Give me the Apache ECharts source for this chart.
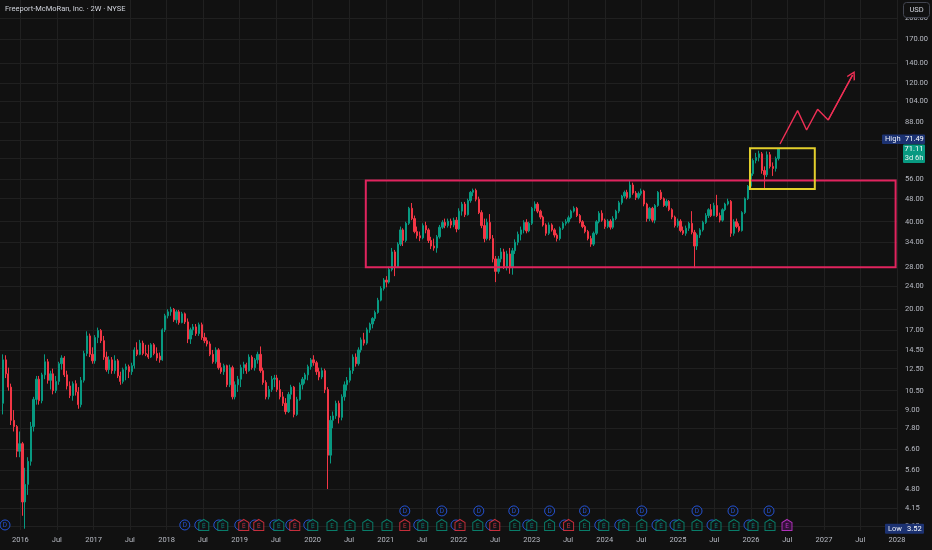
<!DOCTYPE html>
<html>
<head>
<meta charset="utf-8">
<script src="https://cdn.jsdelivr.net/npm/echarts@6/dist/echarts.min.js"></script>
<style>
  html, body { margin: 0; padding: 0; background: #111111; }
  #chart { width: 932px; height: 550px; }
</style>
</head>
<body>
<div id="chart"></div>
<script>
// ---------------- DATA ----------------
const TITLE = 'Freeport-McMoRan, Inc. · 2W · NYSE';
const FIRST_BAR = '2015-10-05';   // first 2-week bar
const BAR_DAYS = 14;

// 2W candles: [open, close, low, high]
const ohlc = [
[9.5,13.4,8.7,14.0],[13.4,12.0,11.6,13.9],[12.0,10.8,10.5,12.6],[10.8,8.3,8.0,11.1],[8.3,7.9,7.6,9.0],
[7.9,6.5,6.2,8.0],[6.5,6.9,6.2,7.6],[6.9,4.35,3.9,7.0],[4.35,5.0,3.52,5.7],[5.0,6.0,4.6,6.2],
[6.0,7.9,5.8,8.2],[7.9,9.8,7.6,10.0],[9.8,11.5,9.4,11.8],[11.5,9.7,9.4,11.8],[9.7,11.9,9.5,12.1],
[11.9,13.2,11.5,14.0],[13.2,11.4,11.1,13.5],[11.4,12.0,10.6,12.3],[12.0,10.5,10.2,12.5],[10.5,11.3,10.3,11.8],
[11.3,13.0,11.0,13.2],[13.0,13.6,12.4,13.9],[13.6,11.9,11.7,13.8],[11.9,10.9,10.6,12.3],[10.9,10.1,9.9,11.3],
[10.1,11.1,9.7,11.3],[11.1,10.4,10.1,11.4],[10.4,9.4,9.1,10.8],[9.4,11.4,9.2,11.7],[11.4,14.1,11.2,14.4],
[14.1,16.2,13.8,16.8],[16.2,14.0,13.7,16.5],[14.0,13.3,13.0,14.8],[13.3,16.0,13.0,16.3],[16.0,16.9,15.3,17.3],
[16.9,15.6,15.3,17.1],[15.6,13.7,13.4,16.2],[13.7,12.4,12.2,14.3],[12.4,13.4,12.0,13.8],[13.4,12.3,12.0,13.7],
[12.3,13.3,12.0,13.9],[13.3,11.8,11.6,13.5],[11.8,11.3,11.0,12.2],[11.3,12.4,11.1,12.6],[12.4,12.7,11.4,13.0],
[12.7,12.2,11.6,12.9],[12.2,12.8,11.9,13.1],[12.8,14.5,12.5,14.8],[14.5,14.0,13.8,15.4],[14.0,15.3,13.9,15.7],
[15.3,14.1,13.9,15.6],[14.1,14.0,13.8,15.1],[14.0,13.7,13.5,15.1],[13.7,15.1,13.6,15.3],[15.1,14.1,13.9,15.3],
[14.1,13.6,13.3,14.8],[13.8,13.4,13.1,14.2],[13.4,17.0,13.3,17.2],[17.0,19.0,16.7,19.3],[19.0,19.6,18.6,20.0],
[19.6,20.0,19.0,20.4],[20.0,18.4,18.1,20.2],[18.4,19.6,17.9,19.9],[19.6,18.0,17.7,19.9],[18.0,19.3,17.9,19.6],
[19.3,18.1,17.8,19.5],[18.1,15.8,15.3,18.6],[15.8,17.0,15.2,17.3],[17.0,17.4,16.3,17.8],[17.4,16.5,16.2,17.8],
[16.5,17.7,16.2,18.0],[17.7,16.0,15.7,18.0],[16.0,15.6,15.3,16.6],[15.6,15.2,14.9,16.0],[15.2,14.0,13.8,15.5],
[14.0,13.2,13.0,14.5],[13.2,14.5,13.0,14.8],[14.5,12.6,12.4,14.7],[12.6,12.2,12.0,13.1],[12.2,12.8,11.9,13.0],
[12.8,11.0,10.8,12.9],[11.0,12.6,10.8,12.9],[12.6,10.0,9.8,12.8],[10.0,11.0,9.8,11.3],[11.0,11.5,10.4,11.8],
[11.5,12.6,10.8,12.9],[12.6,12.9,12.0,13.2],[12.9,12.3,12.0,13.1],[12.3,13.7,12.2,14.0],[13.7,12.6,12.4,13.9],
[12.6,13.4,12.3,13.6],[13.4,14.0,13.0,14.3],[14.0,12.3,12.1,14.9],[12.3,11.2,11.0,12.6],[11.2,10.0,9.8,11.4],
[10.0,10.6,9.8,10.9],[10.6,11.5,10.4,11.8],[11.5,11.6,10.8,11.9],[11.6,10.6,10.4,11.9],[10.6,10.0,9.8,11.4],
[10.0,9.5,9.3,10.4],[9.5,8.9,8.7,9.9],[8.9,10.2,8.8,10.4],[10.2,10.8,9.8,11.0],[10.8,8.7,8.5,10.9],
[8.7,9.8,8.6,10.0],[9.8,11.0,9.7,11.2],[11.0,11.5,10.6,11.7],[11.5,11.9,11.1,12.1],[11.9,12.7,11.4,12.9],
[12.7,13.4,12.4,13.6],[13.4,13.1,12.8,13.9],[13.1,12.2,11.9,13.3],[12.2,11.7,11.4,12.6],[11.7,12.3,11.5,12.6],
[12.3,10.6,10.3,12.5],[10.6,6.3,4.82,10.8],[6.3,8.3,5.9,8.6],[8.3,8.6,7.8,8.9],[8.6,9.5,8.4,9.7],
[9.5,8.5,8.1,9.7],[8.5,10.0,8.3,10.2],[10.0,11.0,9.7,11.3],[11.0,11.4,10.5,11.7],[11.4,12.3,11.2,12.6],
[12.3,13.7,12.0,14.0],[13.7,13.0,12.7,14.1],[13.0,14.5,12.8,14.8],[14.5,15.7,14.2,16.0],[15.7,15.3,15.0,16.6],
[15.3,17.0,15.1,17.3],[17.0,17.8,16.6,18.0],[17.8,18.6,17.2,18.8],[18.6,19.5,18.2,19.8],[19.5,21.5,19.3,21.9],
[21.5,23.6,21.3,24.0],[23.6,25.2,23.2,25.6],[25.2,24.8,23.8,26.0],[24.8,27.4,24.5,28.0],[27.4,31.5,27.0,32.5],
[31.5,28.0,26.0,32.0],[28.0,33.5,27.8,34.0],[33.5,37.5,33.0,38.5],[37.5,34.5,33.0,38.0],[34.5,39.5,34.0,40.0],
[39.5,44.5,39.0,45.0],[44.5,41.0,40.5,46.4],[41.0,37.0,36.5,42.0],[37.0,35.8,35.0,38.5],[35.8,35.2,34.3,37.0],
[35.2,38.8,34.8,39.5],[38.8,37.5,36.5,40.0],[37.5,34.5,33.8,38.0],[34.5,33.0,32.2,35.5],[33.0,32.5,31.8,35.0],
[32.5,35.5,31.3,36.0],[35.5,38.3,35.0,39.0],[38.3,39.8,37.8,40.5],[39.8,38.8,38.0,41.0],[38.8,40.2,38.2,41.0],
[40.2,39.0,38.0,41.0],[39.0,40.5,38.3,41.3],[40.5,37.8,36.8,41.5],[37.8,43.5,37.5,44.5],[43.5,46.0,42.0,46.8],
[46.0,42.3,41.5,46.8],[42.3,47.3,42.0,48.0],[47.3,50.5,46.5,51.0],[50.5,51.3,49.0,52.0],[51.3,47.8,47.0,52.0],
[47.8,43.0,42.5,48.8],[43.0,38.8,38.0,43.8],[38.8,35.0,34.0,41.0],[35.0,39.8,34.5,41.0],[39.8,35.0,34.5,42.5],
[35.0,29.8,29.0,36.0],[29.8,27.0,24.8,30.5],[27.0,29.8,26.5,30.5],[29.8,31.5,29.0,32.5],[31.5,28.0,27.5,32.3],
[28.0,31.0,27.2,31.8],[31.0,27.8,26.5,32.5],[27.8,31.8,26.3,32.5],[31.8,34.0,31.0,34.8],[34.0,36.2,33.2,37.0],
[36.2,37.5,34.5,38.5],[37.5,39.8,36.5,40.5],[39.8,37.2,36.5,40.8],[37.2,39.5,36.8,40.0],[39.5,44.5,39.0,45.0],
[44.5,46.0,43.5,47.0],[46.0,43.5,42.8,46.7],[43.5,41.5,40.8,44.0],[41.5,39.0,38.5,42.0],[39.0,36.5,35.8,39.5],
[36.5,39.0,36.0,39.8],[39.0,37.5,37.0,39.5],[37.5,36.0,35.3,38.0],[36.0,35.0,34.2,36.5],[35.0,38.0,34.5,38.5],
[38.0,39.5,37.5,40.0],[39.5,40.0,38.8,40.8],[40.0,41.3,39.5,42.0],[41.3,43.5,40.8,44.0],[43.5,44.5,43.0,45.2],
[44.5,42.0,41.5,45.0],[42.0,40.0,39.5,42.5],[40.0,38.5,38.0,40.5],[38.5,37.0,36.5,39.0],[37.0,35.0,34.5,37.5],
[35.0,33.5,32.8,35.8],[33.5,36.5,33.0,37.0],[36.5,40.0,36.0,40.5],[40.0,42.8,39.5,43.5],[42.8,40.5,40.0,43.8],
[40.5,38.5,37.8,41.0],[38.5,40.2,38.0,40.8],[40.2,38.3,37.6,40.8],[38.3,41.0,37.8,41.8],[41.0,43.5,40.5,44.0],
[43.5,46.5,42.8,47.2],[46.5,49.0,45.8,49.5],[49.0,50.5,48.2,51.2],[50.5,48.5,47.8,51.5],[48.5,53.5,48.0,55.3],
[53.5,50.2,49.5,54.5],[50.2,48.5,47.5,51.0],[48.5,50.0,47.8,50.8],[50.0,51.0,49.2,52.0],[51.0,46.0,45.2,51.5],
[46.0,41.0,40.0,46.5],[41.0,44.5,40.2,45.0],[44.5,40.5,39.8,45.0],[40.5,45.5,39.5,46.0],[45.5,50.5,45.0,51.0],
[50.5,48.0,47.5,51.5],[48.0,45.5,45.0,48.5],[45.5,47.0,44.8,47.8],[47.0,44.0,43.5,47.5],[44.0,41.5,40.8,44.5],
[41.5,38.8,38.2,42.0],[38.8,40.2,38.2,41.0],[40.2,37.3,36.8,40.8],[37.3,36.5,36.0,38.5],[36.5,38.0,35.8,38.8],
[38.0,39.5,37.2,40.0],[39.5,36.8,36.2,43.5],[36.8,33.0,27.7,37.5],[33.0,36.0,32.0,36.5],[36.0,37.5,35.2,38.0],
[37.5,39.8,37.0,40.3],[39.8,42.0,39.3,42.8],[42.0,44.0,41.2,44.5],[44.0,42.0,41.5,46.0],[42.0,45.5,41.8,46.5],
[45.5,42.0,41.5,49.5],[42.0,40.5,39.8,43.0],[40.5,44.0,40.0,44.5],[44.0,46.0,43.5,46.5],[46.0,47.0,45.5,48.0],
[47.0,36.5,35.5,47.5],[36.5,40.0,35.8,40.8],[40.0,38.5,38.0,41.0],[38.5,37.3,36.8,39.5],[37.3,43.0,37.0,43.5],
[43.0,48.0,42.5,48.5],[48.0,53.0,47.5,53.5],[53.0,58.5,52.5,59.2],[58.5,65.0,57.5,66.0],[65.0,66.5,63.5,69.0],
[66.5,68.5,64.5,70.2],[68.5,60.0,58.5,69.5],[60.0,58.0,51.5,62.0],[58.0,68.0,57.0,69.8],[68.0,62.0,61.0,69.5],
[62.0,61.0,57.5,64.0],[61.0,66.0,59.5,67.0],[66.0,71.11,65.0,71.49]
];

const priceTicks = [200, 170, 140, 120, 104, 88, 76, 66, 56, 48, 40, 34, 28, 24, 20, 17, 14.5, 12.5, 10.5, 9, 7.8, 6.6, 5.6, 4.8, 4.15, 3.6];
const timeLabelYears = [2016, 2017, 2018, 2019, 2020, 2021, 2022, 2023, 2024, 2025, 2026, 2027, 2028];

const lastPrice = 71.11, lastCountdown = '3d 6h';
const highPrice = 71.49, lowPrice = 3.52;

// drawings (time, price)
const rangeBox = { from: '2020-09-23', to: '2027-12-25', low: 27.9, high: 55.4 };
const breakoutBox = { from: '2025-12-27', to: '2026-11-16', low: 51.8, high: 71.6 };
const arrowPath = [['2026-05-26', 74.0], ['2026-08-22', 96.4], ['2026-10-06', 82.7], ['2026-11-30', 97.4], ['2027-01-22', 89.5], ['2027-05-24', 127.8]];

// events
const dividendsSolo = ['2015-10-16', '2018-04-02'];
const dividendsStacked = ['2021-04-06', '2021-10-08', '2022-04-11', '2022-10-03', '2023-03-31', '2023-09-22', '2024-07-04', '2025-04-06', '2025-10-03', '2026-04-01'];
const earnings = [
  ['2018-07-06','beat',1],['2018-10-09','beat',1],['2019-01-22','miss',1],['2019-04-07','miss',1],['2019-07-16','beat',1],
  ['2019-10-04','miss',1],['2020-01-02','beat',1],['2020-04-07','beat',0],['2020-07-06','beat',0],['2020-10-03','beat',0],
  ['2021-01-07','beat',0],['2021-04-06','miss',0],['2021-07-05','beat',1],['2021-10-08','beat',0],['2022-01-07','miss',1],
  ['2022-04-06','beat',0],['2022-06-30','miss',1],['2022-10-08','beat',0],['2023-01-01','beat',1],['2023-03-31','beat',0],
  ['2023-07-04','miss',1],['2023-09-22','beat',0],['2023-12-27','beat',1],['2024-04-05','beat',1],['2024-07-04','beat',0],
  ['2024-10-08','beat',1],['2025-01-06','beat',1],['2025-04-06','beat',0],['2025-07-10','beat',1],['2025-10-08','beat',0],
  ['2026-01-11','beat',1],['2026-04-06','beat',0],['2026-06-30','next',0]
];

// ---------------- BUILD ----------------
const DAY = 86400000;
const ts = s => Date.parse(s + 'T00:00:00Z');
const t0 = ts(FIRST_BAR);
const candleData = ohlc.map((d, i) => [t0 + i * BAR_DAYS * DAY, d[0], d[1], d[2], d[3]]);

const X_MIN = Date.UTC(2015, 8, 21), X_MAX = Date.UTC(2028, 0, 1);
const Y_MIN = 3.484, Y_MAX = 231.5;

const timeTicks = [];
timeLabelYears.forEach(y => {
  timeTicks.push(Date.UTC(y, 0, 1));
  if (y < 2028) timeTicks.push(Date.UTC(y, 6, 1));
});

const BG = '#111111', GRID = '#202020', TXT = '#b8bbc4';
const UP = '#089981', DOWN = '#f23645';
const FONT = 'Roboto, "Noto Sans", sans-serif';
const FS = 7.5;
const BLUE = '#2962ff';
const ROW_LOW = 0.0095, ROW_HIGH = 0.036;
const EC = { beat: UP, miss: DOWN, next: '#d63ae0' };
const HOUSE = 'path://M5 0 L10 3 L10 11 L0 11 L0 3 Z';

const gridLines = [
  ...priceTicks.map(v => ({ yAxis: v, label: { formatter: v.toFixed(2) } })),
  ...timeTicks.map(t => ({ xAxis: t, label: { show: false } }))
];

const option = {
  backgroundColor: BG,
  animation: false,
  textStyle: { fontFamily: FONT },
  grid: { left: 0, right: 35, top: 0, bottom: 20 },
  xAxis: {
    type: 'value', min: X_MIN, max: X_MAX, scale: true,
    axisLine: { show: false }, axisTick: { show: false }, splitLine: { show: false },
    axisLabel: {
      customValues: timeTicks,
      hideOverlap: false,
      color: TXT, fontSize: FS, fontFamily: FONT, margin: 6,
      formatter: v => { const d = new Date(v); return d.getUTCMonth() === 0 ? String(d.getUTCFullYear()) : 'Jul'; }
    }
  },
  yAxis: [
    { type: 'log', logBase: 10, min: Y_MIN, max: Y_MAX, position: 'right',
      axisLine: { show: false }, axisTick: { show: false }, axisLabel: { show: false }, splitLine: { show: false } },
    { type: 'value', min: 0, max: 1, show: false }
  ],
  series: [
    {
      type: 'candlestick', name: 'FCX', data: candleData,
      encode: { x: 0, y: [1, 2, 3, 4] },
      barWidth: 1.7, z: 3,
      itemStyle: { color: UP, color0: DOWN, borderColor: UP, borderColor0: DOWN, borderWidth: 1 },
      markLine: {
        silent: true, z: 1, symbol: ['none', 'none'], animation: false,
        lineStyle: { color: GRID, type: 'solid', width: 1 },
        label: { position: 'end', distance: 8, color: TXT, fontSize: FS, fontFamily: FONT },
        emphasis: { disabled: true },
        data: gridLines
      }
    },
    {
      type: 'line', name: 'projection', z: 5,
      data: arrowPath.map(p => [ts(p[0]), p[1]]),
      symbol: 'none', lineStyle: { color: '#ef2f55', width: 1.4 },
      markArea: {
        silent: true, z: 4,
        data: [
          [{ xAxis: ts(rangeBox.from), yAxis: rangeBox.high, itemStyle: { color: 'rgba(0,0,0,0)', borderColor: '#e0245e', borderWidth: 2 } },
           { xAxis: ts(rangeBox.to), yAxis: rangeBox.low }],
          [{ xAxis: ts(breakoutBox.from), yAxis: breakoutBox.high, itemStyle: { color: 'rgba(0,0,0,0)', borderColor: '#e3cf2c', borderWidth: 2 } },
           { xAxis: ts(breakoutBox.to), yAxis: breakoutBox.low }]
        ]
      },
      markLine: {
        silent: true, z: 5, animation: false,
        symbol: ['none', 'path://M0 0 L6 7 L4.8 8.2 L0 2.6 L-4.8 8.2 L-6 7 Z'], symbolSize: [9, 9],
        lineStyle: { color: '#ef2f55', width: 1.4, type: 'solid' },
        label: { show: false },
        data: [[{ coord: [ts(arrowPath[arrowPath.length - 2][0]), arrowPath[arrowPath.length - 2][1]] },
                { coord: [ts(arrowPath[arrowPath.length - 1][0]), arrowPath[arrowPath.length - 1][1]] }]]
      }
    },
    {
      type: 'scatter', name: 'divBehind', yAxisIndex: 1, z: 6, silent: true,
      symbol: 'circle', symbolSize: 10, symbolOffset: [-4, 0],
      itemStyle: { color: BG, borderColor: BLUE, borderWidth: 1 },
      data: earnings.filter(e => e[2] === 1).map(e => [ts(e[0]), ROW_LOW])
    },
    {
      type: 'scatter', name: 'earnings', yAxisIndex: 1, z: 7, silent: true,
      symbol: HOUSE, symbolSize: [10, 11],
      data: earnings.map(e => ({
        value: [ts(e[0]), ROW_LOW],
        itemStyle: { color: e[1] === 'next' ? '#3b1042' : BG, borderColor: EC[e[1]], borderWidth: 1 },
        label: { color: EC[e[1]] }
      })),
      label: { show: true, position: 'inside', formatter: 'E', fontSize: 6.5, fontFamily: FONT, offset: [0, 1] }
    },
    {
      type: 'scatter', name: 'dividends', yAxisIndex: 1, z: 7, silent: true,
      symbol: 'circle', symbolSize: 10,
      itemStyle: { color: BG, borderColor: BLUE, borderWidth: 1 },
      data: [...dividendsSolo.map(d => [ts(d), ROW_LOW]), ...dividendsStacked.map(d => [ts(d), ROW_HIGH])],
      label: { show: true, position: 'inside', formatter: 'D', fontSize: 6.5, color: BLUE, fontFamily: FONT }
    }
  ]
};

const chart = echarts.init(document.getElementById('chart'));
chart.setOption(option);

// price-scale badges placed from the axis scale
const py = v => chart.convertToPixel({ yAxisIndex: 0 }, v);
const yHi = py(highPrice) - 9.5, yLast = py(lastPrice), yLo = py(lowPrice);
const g = [];
g.push({ type: 'text', x: 5, y: 9, z: 100, style: { text: TITLE, fill: '#d1d4dc', font: FS + 'px ' + FONT, verticalAlign: 'middle' } });
g.push({ type: 'rect', z: 100, shape: { x: 903.5, y: 2.5, width: 26, height: 15, r: 3 }, style: { fill: BG, stroke: '#434651', lineWidth: 1 } });
g.push({ type: 'text', z: 101, x: 916.5, y: 10, style: { text: 'USD', fill: '#d1d4dc', font: FS + 'px ' + FONT, align: 'center', verticalAlign: 'middle' } });
g.push({ type: 'rect', z: 100, shape: { x: 882, y: yHi - 4.5, width: 43, height: 9.5, r: 1 }, style: { fill: '#1c3272' } });
g.push({ type: 'text', z: 101, x: 885, y: yHi + 0.3, style: { text: 'High', fill: '#e8ecf5', font: FS + 'px ' + FONT, verticalAlign: 'middle' } });
g.push({ type: 'text', z: 101, x: 905, y: yHi + 0.3, style: { text: highPrice.toFixed(2), fill: '#ffffff', font: FS + 'px ' + FONT, verticalAlign: 'middle' } });
g.push({ type: 'rect', z: 100, shape: { x: 903, y: yLast - 4.5, width: 22, height: 18.5, r: 1 }, style: { fill: UP } });
g.push({ type: 'text', z: 101, x: 914, y: yLast, style: { text: lastPrice.toFixed(2), fill: '#ffffff', font: FS + 'px ' + FONT, align: 'center', verticalAlign: 'middle' } });
g.push({ type: 'text', z: 101, x: 914, y: yLast + 9, style: { text: lastCountdown, fill: '#e8f5f2', font: FS + 'px ' + FONT, align: 'center', verticalAlign: 'middle' } });
g.push({ type: 'rect', z: 100, shape: { x: 885, y: yLo - 5, width: 39, height: 10, r: 1 }, style: { fill: '#1c3272' } });
g.push({ type: 'text', z: 101, x: 888, y: yLo + 0.3, style: { text: 'Low', fill: '#e8ecf5', font: FS + 'px ' + FONT, verticalAlign: 'middle' } });
g.push({ type: 'text', z: 101, x: 907, y: yLo + 0.3, style: { text: lowPrice.toFixed(2), fill: '#ffffff', font: FS + 'px ' + FONT, verticalAlign: 'middle' } });
chart.setOption({ graphic: g });
</script>
</body>
</html>
